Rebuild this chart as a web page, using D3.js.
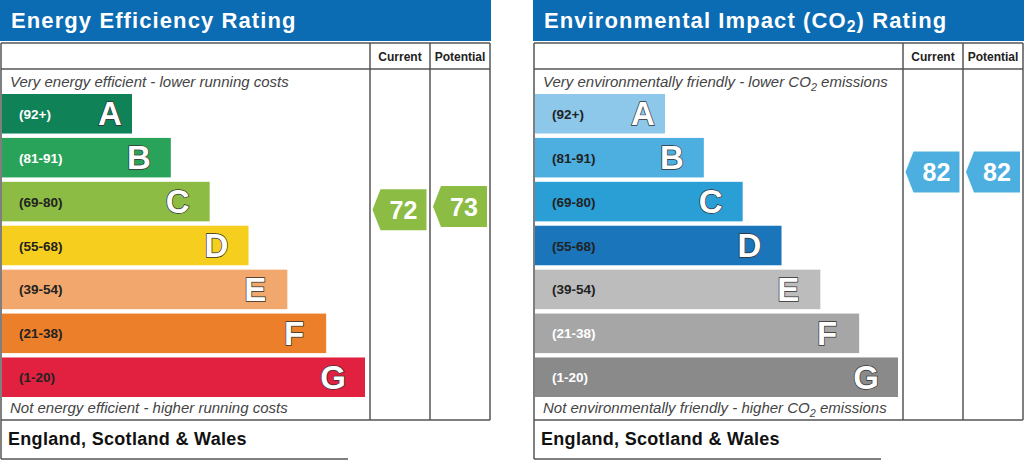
<!DOCTYPE html>
<html>
<head>
<meta charset="utf-8">
<script src="https://cdn.jsdelivr.net/npm/d3@7"></script>
<style>
  body { margin: 0; background: #fff; }
  svg { display: block; font-family: "Liberation Sans", Arial, sans-serif; }
</style>
</head>
<body>
<div id="container"></div>
<script>
const bandLetters = ["A", "B", "C", "D", "E", "F", "G"];
const bandRanges = ["(92+)", "(81-91)", "(69-80)", "(55-68)", "(39-54)", "(21-38)", "(1-20)"];
const bandMin = [92, 81, 69, 55, 39, 21, 1];
const bandMax = [100, 91, 80, 68, 54, 38, 20];

const eeColors = ["#0f8257", "#2aa35a", "#8cbc43", "#f6ce1d", "#f2a86c", "#ec7f2a", "#e1213f"];
const eiColors = ["#8dc8ea", "#4cafe0", "#2a9fd5", "#1a75bb", "#bcbcbc", "#a6a6a6", "#8a8a8a"];
const eeLabelColors = ["#fff", "#fff", "#222", "#222", "#222", "#222", "#222"];
const eiLabelColors = ["#222", "#222", "#222", "#222", "#222", "#fff", "#fff"];

const eeRatings = { current: 72, potential: 73 };
const eiRatings = { current: 82, potential: 82 };

const svg = d3
  .select("#container")
  .append("svg")
  .attr("width", 1024)
  .attr("height", 460);

const bandY = d3.scaleBand().domain(bandLetters).range([94, 397]).paddingInner(0.1).paddingOuter(0);
const barWidth = d3.scaleLinear().domain([0, 6]).range([130, 363]);

// center of an arrow for a given score, placed inside its band
const scoreY = (v) => {
  const i = bandMin.findIndex((m) => v >= m);
  const y = d3
    .scaleLinear()
    .domain([bandMax[i] + 0.5, bandMin[i] - 0.5])
    .range([bandY(bandLetters[i]), bandY(bandLetters[i]) + bandY.bandwidth()]);
  return y(v);
};

// text with optional subscript parts
const addSub = (sel, parts) => {
  let shift = 0;
  parts.forEach(([t, sub]) => {
    const ts = sel.append("tspan").text(t);
    if (sub) {
      ts.attr("font-size", "0.72em").attr("dy", 4);
      shift = -4;
    } else if (shift) {
      ts.attr("dy", shift);
      shift = 0;
    }
  });
};

function drawPanel(x0, opts) {
  const g = svg.append("g").attr("transform", `translate(${x0},0)`);
  const W = 490, col1 = 370, col2 = 430;

  // header
  g.append("rect").attr("x", 0).attr("y", 0).attr("width", W + 1).attr("height", 41).attr("fill", "#0b6bb3");
  const title = g.append("text")
    .attr("x", 11).attr("y", 28)
    .attr("fill", "#fff").attr("font-size", 22).attr("font-weight", "bold")
    .attr("letter-spacing", 1.1);
  addSub(title, opts.title);

  // table frame
  const line = (x1, y1, x2, y2) =>
    g.append("line").attr("x1", x1).attr("y1", y1).attr("x2", x2).attr("y2", y2)
      .attr("stroke", "#555").attr("stroke-width", 1.5);
  line(1, 43, W, 43);
  line(1, 43, 1, 459);
  line(W, 43, W, 420);
  line(col1, 43, col1, 420);
  line(col2, 43, col2, 420);
  line(1, 69, W, 69);
  line(1, 420, W, 420);
  line(1, 459, 348, 459);

  g.append("text").attr("x", (col1 + col2) / 2).attr("y", 61)
    .attr("text-anchor", "middle").attr("font-size", 12).attr("font-weight", "bold")
    .attr("fill", "#222").text("Current");
  g.append("text").attr("x", (col2 + W) / 2).attr("y", 61)
    .attr("text-anchor", "middle").attr("font-size", 12).attr("font-weight", "bold")
    .attr("fill", "#222").text("Potential");

  const top = g.append("text").attr("x", 10).attr("y", 87)
    .attr("font-size", 15).attr("font-style", "italic").attr("fill", "#444");
  addSub(top, opts.topNote);
  const bottom = g.append("text").attr("x", 10).attr("y", 413)
    .attr("font-size", 15).attr("font-style", "italic").attr("fill", "#444");
  addSub(bottom, opts.bottomNote);

  // bars
  const bars = g.selectAll(".band").data(bandLetters).enter().append("g").attr("class", "band");
  bars.append("rect")
    .attr("x", 2)
    .attr("y", (d) => bandY(d))
    .attr("width", (d, i) => barWidth(i))
    .attr("height", bandY.bandwidth())
    .attr("fill", (d, i) => opts.colors[i]);
  bars.append("text")
    .attr("x", 19)
    .attr("y", (d) => bandY(d) + bandY.bandwidth() / 2 + 5)
    .attr("font-size", 13.5).attr("font-weight", "bold")
    .attr("fill", (d, i) => opts.labelColors[i])
    .text((d, i) => bandRanges[i]);
  bars.append("text")
    .attr("x", (d, i) => barWidth(i) - (i === 0 ? 20 : 30))
    .attr("y", (d) => bandY(d) + bandY.bandwidth() / 2 + 11.5)
    .attr("text-anchor", "middle")
    .attr("font-size", 33).attr("font-weight", "bold")
    .attr("fill", "#fff").attr("stroke", "#333").attr("stroke-width", 1.4)
    .attr("paint-order", "stroke")
    .text((d) => d);

  // rating arrows
  const arrow = (xl, v) => {
    const i = bandMin.findIndex((m) => v >= m);
    const cy = scoreY(v), h = 41, w = 54, tip = 8;
    g.append("path")
      .attr("d", d3.line()([
        [xl, cy], [xl + tip, cy - h / 2], [xl + w, cy - h / 2],
        [xl + w, cy + h / 2], [xl + tip, cy + h / 2]
      ]) + "Z")
      .attr("fill", opts.colors[i]);
    g.append("text")
      .attr("x", xl + tip + (w - tip) / 2).attr("y", cy + 9)
      .attr("text-anchor", "middle").attr("font-size", 25).attr("font-weight", "bold")
      .attr("fill", "#fff").text(v);
  };
  arrow(col1 + 2.5, opts.ratings.current);
  arrow(col2 + 3, opts.ratings.potential);

  // footer
  g.append("text").attr("x", 8).attr("y", 445)
    .attr("font-size", 18).attr("font-weight", "bold").attr("fill", "#111")
    .attr("letter-spacing", 0.3)
    .text("England, Scotland & Wales");
}

drawPanel(0, {
  title: [["Energy Efficiency Rating"]],
  topNote: [["Very energy efficient - lower running costs"]],
  bottomNote: [["Not energy efficient - higher running costs"]],
  colors: eeColors,
  labelColors: eeLabelColors,
  ratings: eeRatings,
});

drawPanel(533, {
  title: [["Environmental Impact (CO"], ["2", true], [") Rating"]],
  topNote: [["Very environmentally friendly - lower CO"], ["2", true], [" emissions"]],
  bottomNote: [["Not environmentally friendly - higher CO"], ["2", true], [" emissions"]],
  colors: eiColors,
  labelColors: eiLabelColors,
  ratings: eiRatings,
});
</script>
</body>
</html>
